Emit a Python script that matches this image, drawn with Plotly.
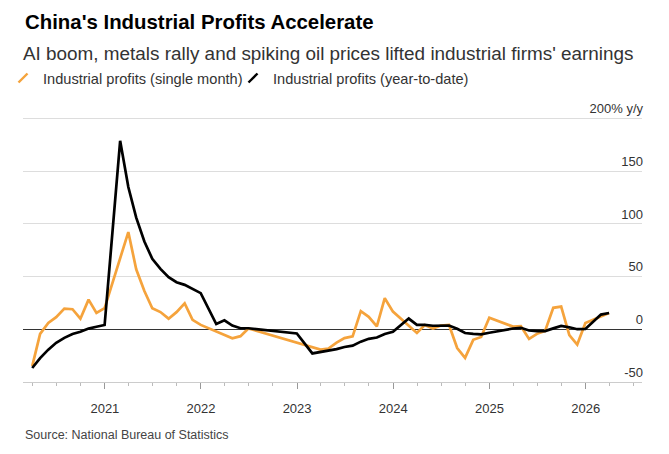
import plotly.graph_objects as go

# ---- data ----
ytd_dates = [
    "2020-03-31", "2020-04-30", "2020-05-31", "2020-06-30", "2020-07-31", "2020-08-31",
    "2020-09-30", "2020-10-31", "2020-11-30", "2020-12-31",
    "2021-02-28", "2021-03-31", "2021-04-30", "2021-05-31", "2021-06-30", "2021-07-31",
    "2021-08-31", "2021-09-30", "2021-10-31", "2021-11-30", "2021-12-31",
    "2022-02-28", "2022-03-31", "2022-04-30", "2022-05-31", "2022-06-30", "2022-12-31",
    "2023-02-28", "2023-03-31", "2023-04-30", "2023-05-31", "2023-06-30", "2023-07-31",
    "2023-08-31", "2023-09-30", "2023-10-31", "2023-11-30", "2023-12-31",
    "2024-02-29", "2024-03-31", "2024-04-30", "2024-05-31", "2024-06-30", "2024-07-31",
    "2024-08-31", "2024-09-30", "2024-10-31", "2024-11-30", "2024-12-31",
    "2025-02-28", "2025-03-31", "2025-04-30", "2025-05-31", "2025-06-30", "2025-07-31",
    "2025-08-31", "2025-09-30", "2025-10-31", "2025-11-30", "2025-12-31",
    "2026-02-28", "2026-03-31",
]
ytd_values = [
    -36.7, -27.4, -19.3, -12.8, -8.1, -4.4,
    -2.4, 0.7, 2.4, 4.1,
    178.9, 135.0, 106.0, 83.4, 66.9, 57.3,
    49.5, 44.7, 42.2, 38.0, 34.3,
    5.0, 8.5, 3.5, 1.0, 1.0, -4.0,
    -22.9, -21.4, -20.6, -18.8, -16.8, -15.5,
    -11.7, -9.0, -7.8, -4.4, -2.3,
    10.2, 4.3, 4.3, 3.4, 3.5, 3.6,
    0.5, -3.5, -4.3, -4.7, -3.3,
    -0.3, 0.8, 1.4, -1.1, -1.8, -1.7,
    0.9, 3.2, 1.9, 0.1, 0.3,
    14.0, 15.5,
]

month_dates = [
    "2020-03-31", "2020-04-30", "2020-05-31", "2020-06-30", "2020-07-31", "2020-08-31",
    "2020-09-30", "2020-10-31", "2020-11-30", "2020-12-31",
    "2021-03-31", "2021-04-30", "2021-05-31", "2021-06-30", "2021-07-31",
    "2021-08-31", "2021-09-30", "2021-10-31", "2021-11-30", "2021-12-31",
    "2022-04-30", "2022-05-31", "2022-06-30",
    "2023-03-31", "2023-04-30", "2023-05-31", "2023-06-30", "2023-07-31",
    "2023-08-31", "2023-09-30", "2023-10-31", "2023-11-30", "2023-12-31",
    "2024-03-31", "2024-04-30", "2024-05-31", "2024-06-30", "2024-07-31",
    "2024-08-31", "2024-09-30", "2024-10-31", "2024-11-30", "2024-12-31",
    "2025-03-31", "2025-04-30", "2025-05-31", "2025-06-30", "2025-07-31",
    "2025-08-31", "2025-09-30", "2025-10-31", "2025-11-30", "2025-12-31",
    "2026-03-31",
]
month_values = [
    -34.9, -4.3, 6.0, 11.5, 19.6, 19.1,
    10.1, 28.2, 15.5, 20.1,
    92.3, 57.0, 36.4, 20.0, 16.4,
    10.1, 16.3, 24.6, 9.0, 4.2,
    -8.5, -6.5, 0.8,
    -19.2, -18.2, -12.6, -8.3, -6.7,
    17.2, 11.9, 2.7, 29.5, 16.8,
    -3.5, 4.0, 0.7, 3.6, 4.1,
    -17.8, -27.1, -10.0, -7.3, 11.0,
    2.6, 3.0, -9.1, -4.3, -1.5,
    20.4, 21.6, -5.5, -14.5, 6.0,
    15.5,
]

series_names = ["Industrial profits (single month)", "Industrial profits (year-to-date)"]
y_tickvals = [-50, 0, 50, 100, 150, 200]
y_ticktext = ["-50", "0", "50", "100", "150", "200% y/y"]

title_text = "China's Industrial Profits Accelerate"
subtitle_text = "AI boom, metals rally and spiking oil prices lifted industrial firms' earnings"
source_text = "Source: National Bureau of Statistics"

ORANGE = "#F5A33C"
BLACK = "#000000"
FONT = "Liberation Sans, Arial, sans-serif"

W, H = 669, 454
M_L, M_R, M_T, M_B = 23, 27, 117, 72
PW, PH = W - M_L - M_R, H - M_T - M_B

fig = go.Figure()

# data lines
fig.add_trace(go.Scatter(x=month_dates, y=month_values, mode="lines",
                         line=dict(color=ORANGE, width=2.7), name=series_names[0],
                         legendgroup="m", showlegend=False))
fig.add_trace(go.Scatter(x=ytd_dates, y=ytd_values, mode="lines",
                         line=dict(color=BLACK, width=2.7), name=series_names[1],
                         legendgroup="y", showlegend=False))

# legend entries with slash icons (one legend each, to control spacing)
for name, col, grp, leg in [(series_names[0], ORANGE, "m", "legend"),
                            (series_names[1], BLACK, "y", "legend2")]:
    fig.add_trace(go.Scatter(x=[None], y=[None], mode="markers", name=name, legendgroup=grp,
                             legend=leg,
                             marker=dict(symbol="line-ne", size=9,
                                         line=dict(color=col, width=2.4))))

leg_common = dict(orientation="h", xref="container", yref="container",
                  y=1 - 78 / H, xanchor="left", yanchor="middle",
                  font=dict(size=14.6, color="#333333", family=FONT),
                  itemwidth=30, bgcolor="rgba(0,0,0,0)", itemclick=False, itemdoubleclick=False)

fig.update_layout(
    width=W, height=H,
    margin=dict(l=M_L, r=M_R, t=M_T, b=M_B, autoexpand=False),
    paper_bgcolor="white", plot_bgcolor="white",
    font=dict(family=FONT, color="#333333", size=13),
    title=dict(text="<b>" + title_text + "</b>", x=25 / W, xref="container", xanchor="left",
               y=1 - 22 / H, yref="container", yanchor="middle",
               font=dict(size=20.4, color="#000000", family=FONT)),
    showlegend=True,
    legend=dict(x=3 / W, **leg_common),
    legend2=dict(x=233 / W, **leg_common),
    xaxis=dict(type="date", range=["2020-02-25", "2026-08-03"], automargin=False,
               showgrid=False, zeroline=False, showline=True, linecolor="#cccccc", linewidth=1,
               tick0="2021-01-01", dtick="M12", tickformat="%Y",
               ticks="outside", ticklen=6, tickwidth=1, tickcolor="#999999",
               ticklabelstandoff=8,
               tickfont=dict(size=13, color="#333333"),
               minor=dict(ticks="outside", dtick="M3", tick0="2021-01-01", ticklen=3,
                          tickcolor="#bbbbbb", showgrid=False)),
    yaxis=dict(side="right", range=[-50, 201.5], tickvals=y_tickvals, ticktext=y_ticktext,
               automargin=False,
               ticklabelposition="inside", ticklabeloverflow="allow", ticks="",
               ticklabelshift=-10, ticklabelstandoff=-4,
               showgrid=True, gridcolor="#dddddd", gridwidth=1,
               zeroline=True, zerolinecolor="#333333", zerolinewidth=1,
               showline=False, tickfont=dict(size=13, color="#333333")),
    annotations=[
        dict(text=subtitle_text, xref="paper", yref="paper", x=(21 - M_L) / PW,
             y=(H - M_B - 53) / PH, xanchor="left", yanchor="middle",
             showarrow=False, font=dict(size=18.9, color="#333333", family=FONT)),
        dict(text=source_text, xref="paper", yref="paper", x=(23 - M_L) / PW,
             y=(H - M_B - 435) / PH, xanchor="left", yanchor="middle",
             showarrow=False, font=dict(size=12.5, color="#444444", family=FONT)),
    ],
)

fig.write_html("out.html")
